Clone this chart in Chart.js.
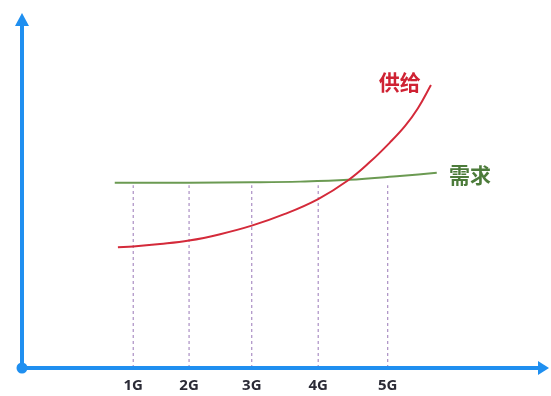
<!DOCTYPE html>
<html>
<head>
<meta charset="utf-8">
<script src="https://cdn.jsdelivr.net/npm/chart.js@4/dist/chart.umd.min.js"></script>
<style>
html,body{margin:0;padding:0;background:#fff;}
canvas{display:block;}
</style>
</head>
<body>
<canvas id="c" width="551" height="396"></canvas>
<script>
// Generation tick labels and their positions on the time axis
const genLabels = ["1G", "2G", "3G", "4G", "5G"];
const genX = [21.1, 31.7, 43.6, 56.2, 69.4];

// Supply curve (供给)
const supplyX = [18.2, 21.1, 26.2, 31.7, 37.6, 43.6, 49.9, 56.2, 61.9, 66.0, 69.8, 72.7, 75.1, 77.6];
const supplyY = [34.0, 34.2, 34.9, 35.9, 37.7, 40.1, 43.4, 47.6, 52.9, 58.0, 63.5, 68.2, 73.1, 79.7];

// Demand curve (需求)
const demandX = [17.6, 31.7, 43.6, 52.8, 61.9, 71.7, 78.7];
const demandY = [52.2, 52.2, 52.3, 52.5, 53.0, 54.1, 55.0];

// Top of vertical guide lines
const guideTop = 51.5;

// Curve labels
const supplyLabel = {text: "供给", x: 71.7, y: 80.6};
const demandLabel = {text: "需求", x: 85.0, y: 54.4};

const AXIS = "#1f8ff0";
const RED = "#d42a3a";
const GREEN = "#6b9a52";
const GUIDE = "#9a78b8";

const toPts = (xs, ys) => xs.map((x, i) => ({x: x, y: ys[i]}));

const datasets = [];
genX.forEach(g => {
  datasets.push({
    data: [{x: g, y: 0}, {x: g, y: guideTop}],
    borderColor: GUIDE, borderWidth: 1, borderDash: [3, 3],
    pointRadius: 0, tension: 0, order: 3
  });
});
datasets.push({
  data: toPts(demandX, demandY),
  borderColor: GREEN, borderWidth: 2, pointRadius: 0,
  tension: 0.4, order: 2
});
datasets.push({
  data: toPts(supplyX, supplyY),
  borderColor: RED, borderWidth: 2, pointRadius: 0,
  tension: 0.4, order: 1
});

const decor = {
  id: "decor",
  afterDatasetsDraw(chart) {
    const ctx = chart.ctx;
    const xs = chart.scales.x, ys = chart.scales.y;
    const ox = xs.getPixelForValue(0), oy = ys.getPixelForValue(0);
    const xEnd = xs.getPixelForValue(100), yEnd = ys.getPixelForValue(100);
    ctx.save();
    ctx.strokeStyle = AXIS; ctx.fillStyle = AXIS;
    ctx.lineWidth = 4; ctx.lineCap = "butt";
    // y axis
    ctx.beginPath(); ctx.moveTo(ox, oy); ctx.lineTo(ox, yEnd + 10); ctx.stroke();
    ctx.beginPath(); ctx.moveTo(ox, yEnd); ctx.lineTo(ox - 7, yEnd + 13); ctx.lineTo(ox + 7, yEnd + 13); ctx.closePath(); ctx.fill();
    // x axis
    ctx.beginPath(); ctx.moveTo(ox, oy); ctx.lineTo(xEnd - 10, oy); ctx.stroke();
    ctx.beginPath(); ctx.moveTo(xEnd, oy); ctx.lineTo(xEnd - 11, oy - 7); ctx.lineTo(xEnd - 11, oy + 7); ctx.closePath(); ctx.fill();
    // origin dot
    ctx.beginPath(); ctx.arc(ox, oy, 5.5, 0, Math.PI * 2); ctx.fill();
    // tick labels
    ctx.fillStyle = "#2b2b36";
    ctx.font = "bold 15px 'Open Sans', 'DejaVu Sans', sans-serif";
    ctx.textAlign = "center"; ctx.textBaseline = "middle";
    genX.forEach((g, i) => ctx.fillText(genLabels[i], xs.getPixelForValue(g), oy + 18));
    // curve labels
    ctx.font = "bold 21px 'Noto Sans CJK SC', sans-serif";
    ctx.fillStyle = "#cf2233";
    ctx.fillText(supplyLabel.text, xs.getPixelForValue(supplyLabel.x), ys.getPixelForValue(supplyLabel.y));
    ctx.fillStyle = "#4c7b3a";
    ctx.fillText(demandLabel.text, xs.getPixelForValue(demandLabel.x), ys.getPixelForValue(demandLabel.y));
    ctx.restore();
  }
};

new Chart(document.getElementById("c"), {
  type: "line",
  data: {datasets: datasets},
  options: {
    responsive: false, animation: false,
    layout: {padding: {left: 22, right: 2, top: 13, bottom: 28}},
    plugins: {legend: {display: false}, tooltip: {enabled: false}},
    scales: {
      x: {type: "linear", min: 0, max: 100, display: false},
      y: {type: "linear", min: 0, max: 100, display: false}
    }
  },
  plugins: [decor]
});
</script>
</body>
</html>
